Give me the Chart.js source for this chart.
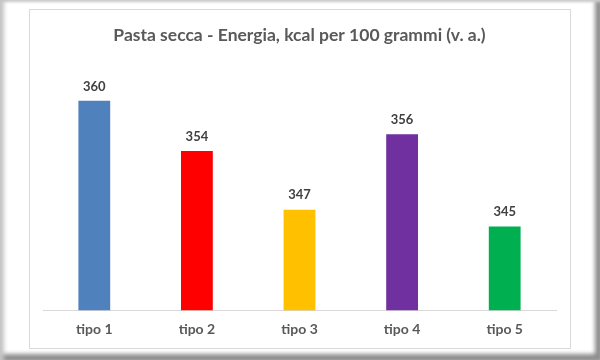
<!DOCTYPE html>
<html>
<head>
<meta charset="utf-8">
<script src="https://cdn.jsdelivr.net/npm/chart.js@4"></script>
<style>
  html, body { margin: 0; padding: 0; background: #fff; }
  #frame {
    position: absolute; left: 0; top: 0; width: 600px; height: 360px;
    box-shadow: inset 5px 0 4px -1px #c4c4c4, inset 0 3px 3px -1px #cfcfcf,
                inset -7px 0 4px -2px #8c8c8c, inset 0 -8px 4px -2px #8c8c8c;
  }
  #box {
    position: absolute; left: 29px; top: 9px; width: 540px; height: 338px;
    border: 1px solid #d9d9d9; background: #fff;
  }
  canvas { display: block; }
</style>
</head>
<body>
<div id="frame"></div>
<div id="box"><canvas id="chart" width="540" height="338"></canvas></div>
<script>
  // data
  var categories = ["tipo 1", "tipo 2", "tipo 3", "tipo 4", "tipo 5"];
  var energy = [360, 354, 347, 356, 345];
  var barColors = ["#4f81bd", "#ff0000", "#ffc000", "#7030a0", "#00b050"];

  // value labels above bars
  var valueLabels = {
    id: "valueLabels",
    afterDatasetsDraw: function (chart) {
      var ctx = chart.ctx;
      var meta = chart.getDatasetMeta(0);
      ctx.save();
      ctx.font = "bold 13px Lato, 'Open Sans', sans-serif";
      ctx.fillStyle = "#404040";
      ctx.textAlign = "center";
      ctx.textBaseline = "bottom";
      meta.data.forEach(function (bar, i) {
        ctx.fillText(chart.data.datasets[0].data[i], bar.x, bar.y - 8);
      });
      ctx.restore();
    },
  };

  var ctx = document.getElementById("chart").getContext("2d");
  var myChart = new Chart(ctx, {
    type: "bar",
    data: {
      labels: categories,
      datasets: [
        {
          label: "Energia",
          data: energy,
          backgroundColor: barColors,
          categoryPercentage: 1,
          barPercentage: 0.31,
        },
      ],
    },
    options: {
      responsive: false,
      animation: false,
      layout: { padding: { left: 13, right: 14, top: 0, bottom: 7 } },
      plugins: {
        legend: { display: false },
        tooltip: { enabled: false },
        title: {
          display: true,
          text: "Pasta secca - Energia, kcal per 100 grammi (v. a.)",
          color: "#595959",
          font: { family: "Lato, 'Open Sans', sans-serif", size: 17.5, weight: "bold" },
          padding: { top: 15, bottom: 13 },
        },
      },
      scales: {
        x: {
          grid: { display: false },
          border: { color: "#d9d9d9" },
          ticks: {
            color: "#595959",
            padding: 3,
            font: { family: "Lato, 'Open Sans', sans-serif", size: 14, weight: "bold" },
          },
        },
        y: {
          display: false,
          min: 335,
          max: 365,
        },
      },
    },
    plugins: [valueLabels],
  });
</script>
</body>
</html>
